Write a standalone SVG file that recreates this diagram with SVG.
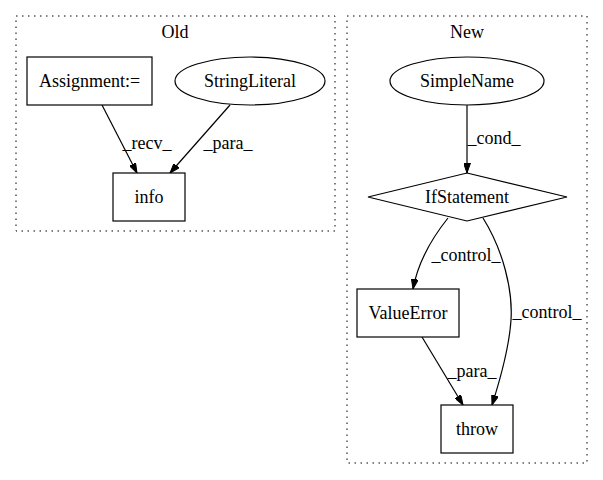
<svg xmlns="http://www.w3.org/2000/svg" width="603" height="480" viewBox="0 0 603 480">
<defs>
<style>
.cl{fill:none;stroke:#000;stroke-width:1;stroke-dasharray:1.5,4.5}
.n{fill:#fff;stroke:#000;stroke-width:1.2}
.e{fill:none;stroke:#000;stroke-width:1.2;marker-end:url(#ah)}
</style>
<marker id="ah" viewBox="0 0 10 7" refX="10" refY="3.5" markerWidth="10" markerHeight="7" markerUnits="userSpaceOnUse" orient="auto">
<path d="M0,0 L10,3.5 L0,7 z" fill="#000" stroke="#000"/>
</marker>
</defs>
<rect width="603" height="480" fill="#fff"/>
<g font-family="'Liberation Serif', 'Times New Roman', serif" font-size="18" text-anchor="middle" fill="#000">
<g id="cluster_old">
<rect class="cl" x="16" y="16" width="319" height="215"/>
<text x="175" y="38">Old</text>
</g>
<g id="cluster_new">
<rect class="cl" x="347" y="16" width="240" height="447"/>
<text x="467" y="38">New</text>
</g>
<g id="edges">
<path class="e" d="M102,105 L137,173"/>
<text x="147" y="149">_recv_</text>
<path class="e" d="M230,105 L170,173"/>
<text x="228" y="149">_para_</text>
<path class="e" d="M467,105 L467,173"/>
<text x="494" y="144">_cond_</text>
<path class="e" d="M448,218 C432,238 418,262 413,289"/>
<text x="466" y="261">_control_</text>
<path class="e" d="M483,218 C503,250 513,290 511,320 C509,350 500,380 492,405"/>
<text x="547" y="318">_control_</text>
<path class="e" d="M422,337 L463,405"/>
<text x="472" y="377">_para_</text>
</g>
<g id="assignment">
<rect class="n" x="27" y="57" width="125" height="48"/>
<text x="89.5" y="87">Assignment:=</text>
</g>
<g id="stringliteral">
<ellipse class="n" cx="250" cy="81" rx="75" ry="24"/>
<text x="250" y="87">StringLiteral</text>
</g>
<g id="info">
<rect class="n" x="113" y="173" width="72" height="48"/>
<text x="149" y="203">info</text>
</g>
<g id="simplename">
<ellipse class="n" cx="467" cy="81" rx="77" ry="24"/>
<text x="467" y="87">SimpleName</text>
</g>
<g id="ifstatement">
<polygon class="n" points="467,173 567,197 467,221 368,197"/>
<text x="467" y="203">IfStatement</text>
</g>
<g id="valueerror">
<rect class="n" x="357" y="289" width="102" height="48"/>
<text x="408" y="319">ValueError</text>
</g>
<g id="throw">
<rect class="n" x="441" y="405" width="72" height="48"/>
<text x="477" y="435">throw</text>
</g>
</g>
</svg>
